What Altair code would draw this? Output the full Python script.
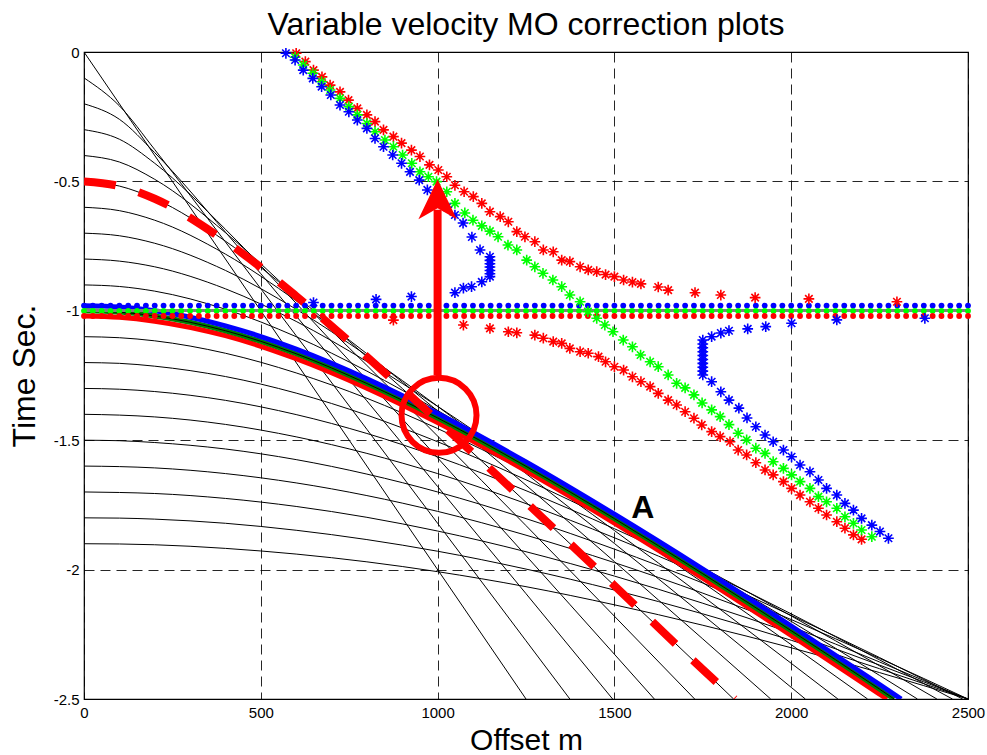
import altair as alt
import pandas as pd

TITLE = "Variable velocity MO correction plots"
X_TITLE = "Offset m"
Y_TITLE = "Time Sec."
x_ticks = [0, 500, 1000, 1500, 2000, 2500]
y_ticks = [0, -0.5, -1, -1.5, -2, -2.5]

# offsets (m) at which the black moveout curves were read
offs = [0, 100, 200, 400, 600, 800, 1000, 1250, 1500, 1750, 2000, 2250, 2500]
# offset where each curve leaves the plot at 2.5 s
black_end = [1250, 1374, 1495, 1613, 1727, 1837, 1942, 2040, 2132, 2216,
             2291, 2357, 2412, 2456, 2485, 2500, 2497, 2500, 2500, 2500]
mo_00 = [0.0, 2.5]
mo_01 = [0.1, 0.208, 0.377, 0.734, 1.096, 1.458, 1.821, 2.275, 2.5]
mo_02 = [0.2, 0.260, 0.389, 0.696, 1.020, 1.348, 1.679, 2.093, 2.5]
mo_03 = [0.3, 0.337, 0.430, 0.685, 0.971, 1.267, 1.568, 1.946, 2.327, 2.5]
mo_04 = [0.4, 0.425, 0.492, 0.698, 0.946, 1.211, 1.484, 1.830, 2.180, 2.5]
mo_05 = [0.5, 0.518, 0.567, 0.731, 0.943, 1.178, 1.424, 1.740, 2.062, 2.386, 2.5]
mo_06 = [0.6, 0.613, 0.650, 0.781, 0.961, 1.166, 1.387, 1.674, 1.969, 2.268, 2.5]
mo_07 = [0.7, 0.710, 0.739, 0.844, 0.994, 1.173, 1.369, 1.629, 1.899, 2.175, 2.455, 2.5]
mo_08 = [0.8, 0.808, 0.830, 0.915, 1.041, 1.196, 1.369, 1.603, 1.849, 2.103, 2.362, 2.5]
mo_09 = [0.9, 0.906, 0.924, 0.994, 1.100, 1.233, 1.385, 1.594, 1.817, 2.050, 2.290, 2.5]
mo_10 = [1.0, 1.005, 1.020, 1.077, 1.166, 1.281, 1.414, 1.601, 1.803, 2.016, 2.236, 2.462, 2.5]
mo_11 = [1.1, 1.104, 1.116, 1.164, 1.240, 1.338, 1.455, 1.621, 1.803, 1.997, 2.200, 2.409, 2.5]
mo_12 = [1.2, 1.203, 1.214, 1.254, 1.318, 1.403, 1.506, 1.653, 1.816, 1.993, 2.179, 2.372, 2.5]
mo_13 = [1.3, 1.303, 1.312, 1.346, 1.401, 1.474, 1.564, 1.695, 1.842, 2.001, 2.171, 2.349, 2.5]
mo_14 = [1.4, 1.403, 1.410, 1.439, 1.487, 1.551, 1.629, 1.745, 1.877, 2.022, 2.177, 2.340, 2.5]
mo_15 = [1.5, 1.502, 1.509, 1.534, 1.575, 1.631, 1.700, 1.803, 1.921, 2.052, 2.193, 2.343, 2.5]
mo_16 = [1.6, 1.602, 1.607, 1.629, 1.665, 1.714, 1.775, 1.867, 1.973, 2.091, 2.220, 2.357, 2.5]
mo_17 = [1.7, 1.702, 1.706, 1.725, 1.756, 1.798, 1.851, 1.931, 2.025, 2.130, 2.245, 2.369, 2.5]
mo_18 = [1.8, 1.801, 1.805, 1.821, 1.848, 1.884, 1.929, 1.998, 2.079, 2.171, 2.273, 2.383, 2.5]
mo_19 = [1.9, 1.901, 1.904, 1.918, 1.940, 1.970, 2.008, 2.066, 2.136, 2.215, 2.302, 2.398, 2.5]
black_curves = [mo_00, mo_01, mo_02, mo_03, mo_04, mo_05, mo_06, mo_07, mo_08, mo_09,
                mo_10, mo_11, mo_12, mo_13, mo_14, mo_15, mo_16, mo_17, mo_18, mo_19]

# thick reference curves near 1 s
thick_red_x = [0, 100, 200, 400, 600, 800, 1000, 1250, 1500, 1750, 2000, 2250, 2271]
thick_red_t = [1.02, 1.025, 1.040, 1.096, 1.185, 1.299, 1.432, 1.618, 1.820, 2.033, 2.254, 2.481, 2.5]
thick_green_x = [0, 100, 200, 400, 600, 800, 1000, 1250, 1500, 1750, 2000, 2250, 2291]
thick_green_t = [1.0, 1.005, 1.020, 1.077, 1.166, 1.281, 1.414, 1.601, 1.803, 2.016, 2.236, 2.462, 2.5]
thick_blue_x = [0, 100, 200, 400, 600, 800, 1000, 1250, 1500, 1750, 2000, 2250, 2311]
thick_blue_t = [0.98, 0.985, 1.000, 1.058, 1.148, 1.263, 1.397, 1.584, 1.786, 1.998, 2.218, 2.444, 2.5]
# red dashed curve from 0.5 s
dash_x = [0, 100, 200, 400, 600, 800, 1000, 1250, 1500, 1750, 1840]
dash_t = [0.5, 0.518, 0.567, 0.731, 0.943, 1.178, 1.424, 1.740, 2.062, 2.386, 2.5]

# flat corrected events (dots)
dot_offsets = [0, 25, 50, 75, 100, 125, 150, 175, 200, 225, 250, 275, 300, 325, 350, 375,
               400, 425, 450, 475, 500, 525, 550, 575, 600, 625, 650, 675, 700, 725, 750,
               775, 800, 825, 850, 875, 900, 925, 950, 975, 1000, 1025, 1050, 1075, 1100,
               1125, 1150, 1175, 1200, 1225, 1250, 1275, 1300, 1325, 1350, 1375, 1400,
               1425, 1450, 1475, 1500, 1525, 1550, 1575, 1600, 1625, 1650, 1675, 1700,
               1725, 1750, 1775, 1800, 1825, 1850, 1875, 1900, 1925, 1950, 1975, 2000,
               2025, 2050, 2075, 2100, 2125, 2150, 2175, 2200, 2225, 2250, 2275, 2300,
               2325, 2350, 2375, 2400, 2425, 2450, 2475, 2500]
dot_blue_t = 0.98
dot_green_t = 1.0
dot_red_t = 1.02

# star series
red_star_x = [600, 626, 649, 673, 696, 724, 748, 773, 800, 823, 847, 875, 898, 926, 950, 977,
              1002, 1026, 1049, 1075, 1101, 1125, 1148, 1177, 1200, 1224, 1247, 1275, 1299,
              1327, 1351, 1374, 1403, 1426, 1450, 1475, 1500, 1526, 1551, 1575, 1624, 1652,
              1728, 1801, 1898, 2050, 2299,
              875, 1073, 1148, 1200, 1224, 1275, 1299, 1327, 1351, 1374, 1403, 1426, 1455,
              1475, 1500, 1526, 1551, 1575, 1601, 1624, 1652, 1676, 1700, 1725, 1747, 1775,
              1799, 1827, 1850, 1874, 1900, 1926, 1949, 1978, 2001, 2025, 2053, 2077, 2100,
              2129, 2152, 2176, 2199]
red_star_t = [0.005, 0.037, 0.070, 0.096, 0.128, 0.154, 0.186, 0.218, 0.243, 0.269, 0.301,
              0.327, 0.352, 0.379, 0.404, 0.436, 0.456, 0.482, 0.515, 0.540, 0.559, 0.585,
              0.617, 0.636, 0.656, 0.694, 0.714, 0.733, 0.765, 0.772, 0.804, 0.810, 0.830,
              0.842, 0.849, 0.860, 0.868, 0.881, 0.889, 0.896, 0.908, 0.920, 0.930, 0.939,
              0.949, 0.954, 0.965,
              1.036, 1.055, 1.068, 1.081, 1.085, 1.094, 1.106, 1.119, 1.126, 1.145, 1.158,
              1.164, 1.177, 1.197, 1.216, 1.229, 1.255, 1.274, 1.293, 1.319, 1.345, 1.364,
              1.390, 1.415, 1.441, 1.467, 1.486, 1.506, 1.538, 1.557, 1.587, 1.615, 1.634,
              1.660, 1.686, 1.712, 1.738, 1.763, 1.789, 1.815, 1.840, 1.866, 1.883]
green_star_x = [597, 620, 647, 672, 696, 724, 749, 773, 800, 823, 851, 875, 901, 927, 950, 974,
                997, 1026, 1049, 1077, 1100, 1125, 1148, 1171, 1199, 1224, 1252, 1275, 1298,
                1326, 1351, 1374, 1403, 1425, 1450, 1473, 1496, 1525, 1551, 1574, 1601, 1624,
                1652, 1676, 1700, 1725, 1748, 1775, 1799, 1824, 1850, 1874, 1900, 1926, 1949,
                1978, 2001, 2025, 2053, 2077, 2100, 2129, 2152, 2176, 2199, 2228]
green_star_t = [0.020, 0.050, 0.082, 0.115, 0.147, 0.179, 0.211, 0.243, 0.276, 0.308, 0.340,
                0.366, 0.398, 0.430, 0.463, 0.482, 0.501, 0.540, 0.585, 0.622, 0.650, 0.672,
                0.692, 0.714, 0.746, 0.765, 0.804, 0.830, 0.855, 0.881, 0.907, 0.939, 0.965,
                1.003, 1.029, 1.055, 1.081, 1.113, 1.139, 1.171, 1.197, 1.216, 1.248, 1.280,
                1.298, 1.325, 1.356, 1.383, 1.409, 1.440, 1.473, 1.499, 1.531, 1.551, 1.583,
                1.609, 1.634, 1.660, 1.686, 1.718, 1.738, 1.763, 1.796, 1.821, 1.847, 1.873]
blue_star_x = [571, 597, 620, 647, 672, 698, 724, 749, 773, 800, 823, 847, 873, 898, 922, 948,
               971, 997, 1026, 1049, 1072, 1097, 1120, 1148, 1148, 1148, 1148, 1148, 1148, 1148,
               1125, 1096, 1073, 1049, 926, 826, 649,
               2378, 2129, 2001, 1928, 1877, 1824, 1801, 1775, 1750, 1750, 1750, 1750, 1750,
               1750, 1750, 1750, 1750, 1750, 1775, 1801, 1824, 1852, 1875, 1900, 1926, 1949,
               1978, 2001, 2025, 2053, 2077, 2100, 2129, 2152, 2176, 2199, 2228, 2251, 2275]
blue_star_t = [0.005, 0.031, 0.070, 0.102, 0.134, 0.166, 0.205, 0.231, 0.263, 0.295, 0.334,
               0.366, 0.398, 0.430, 0.463, 0.495, 0.533, 0.565, 0.600, 0.630, 0.661, 0.715,
               0.765, 0.791, 0.805, 0.818, 0.831, 0.844, 0.857, 0.868, 0.888, 0.907, 0.912,
               0.930, 0.945, 0.956, 0.968,
               1.029, 1.035, 1.048, 1.061, 1.070, 1.077, 1.086, 1.100, 1.113, 1.128, 1.143,
               1.158, 1.173, 1.188, 1.203, 1.218, 1.233, 1.248, 1.274, 1.313, 1.345, 1.376,
               1.414, 1.448, 1.480, 1.506, 1.538, 1.564, 1.596, 1.622, 1.654, 1.686, 1.712,
               1.744, 1.770, 1.802, 1.828, 1.853, 1.879]

# annotations
circle_x, circle_t = 1004, 1.404
arrow_x, arrow_t_from, arrow_t_to = 1000, 1.248, 0.61
arrow_head_t = 0.569
label_a_x, label_a_t, label_a = 1580, 1.802, "A"

# ---------------------------------------------------------------- tables
rows = []
for i, (tl, end) in enumerate(zip(black_curves, black_end)):
    xs = offs[:len(tl) - 1] + [end]
    for k, (xv, tv) in enumerate(zip(xs, tl)):
        rows.append({"curve": i, "ord": k, "x": xv, "y": -tv})
df_black = pd.DataFrame(rows)


def line_df(xs, ts):
    return pd.DataFrame({"x": xs, "y": [-t for t in ts], "ord": list(range(len(xs)))})


df_red = line_df(thick_red_x, thick_red_t)
df_green = line_df(thick_green_x, thick_green_t)
df_blue = line_df(thick_blue_x, thick_blue_t)
df_dash = line_df(dash_x, dash_t)
df_dots = pd.DataFrame({"x": dot_offsets})

star_rows = []
for name, xs, ts in [("red", red_star_x, red_star_t), ("green", green_star_x, green_star_t),
                     ("blue", blue_star_x, blue_star_t)]:
    for xv, tv in zip(xs, ts):
        star_rows.append({"x": xv, "y": -tv, "c": name})
df_stars = pd.DataFrame(star_rows)

df_circle = pd.DataFrame({"x": [circle_x], "y": [-circle_t]})
df_arrow = pd.DataFrame({"x": [arrow_x], "y": [-arrow_t_from], "y2": [-arrow_t_to]})
df_head = pd.DataFrame({"x": [arrow_x], "y": [-arrow_head_t]})
df_label = pd.DataFrame({"x": [label_a_x], "y": [-label_a_t], "txt": [label_a]})

FONT = "Liberation Sans"
x_scale = alt.Scale(domain=[0, 2500], nice=False, zero=False)
y_scale = alt.Scale(domain=[-2.5, 0], nice=False, zero=False)
x_axis = alt.Axis(values=x_ticks, format="d", grid=True, gridDash=[10, 6], gridColor="black",
                  gridWidth=1, gridOpacity=0.85, ticks=False, domain=False, labelFont=FONT,
                  labelFontSize=15, labelColor="black", labelPadding=6, labelFlush=False,
                  title=X_TITLE, titleFont=FONT, titleFontSize=30, titleFontWeight="normal",
                  titleColor="black", titlePadding=5)
y_axis = alt.Axis(values=y_ticks, labelExpr="'' + datum.value", grid=True, gridDash=[10, 6],
                  gridColor="black", gridWidth=1, gridOpacity=0.85, ticks=False, domain=False,
                  labelFont=FONT, labelFontSize=15, labelColor="black", labelPadding=5,
                  labelFlush=False, title=Y_TITLE, titleFont=FONT, titleFontSize=32,
                  titleFontWeight="normal", titleColor="black", titlePadding=12)

X = alt.X("x:Q", scale=x_scale, axis=x_axis)
Y = alt.Y("y:Q", scale=y_scale, axis=y_axis)
Xn = alt.X("x:Q", scale=x_scale)
Yn = alt.Y("y:Q", scale=y_scale)

base = alt.Chart(df_black).mark_line(color="black", strokeWidth=1, interpolate="monotone",
                                     clip=True).encode(x=X, y=Y, detail="curve:N", order="ord:Q")

thick_red = alt.Chart(df_red).mark_line(color="#ff0000", strokeWidth=5, interpolate="monotone",
                                        clip=True).encode(x=Xn, y=Yn, order="ord:Q")
thick_green = alt.Chart(df_green).mark_line(color="#008000", strokeWidth=5,
                                            interpolate="monotone", clip=True).encode(
    x=Xn, y=Yn, order="ord:Q")
thick_blue = alt.Chart(df_blue).mark_line(color="#0000ff", strokeWidth=5,
                                          interpolate="monotone", clip=True).encode(
    x=Xn, y=Yn, order="ord:Q")
black_ref = alt.Chart(df_green).mark_line(color="black", strokeWidth=1, interpolate="monotone",
                                          clip=True).encode(x=Xn, y=Yn, order="ord:Q")
dashed = alt.Chart(df_dash).mark_line(color="#ff0000", strokeWidth=8, strokeDash=[32, 24],
                                      strokeCap="butt", interpolate="monotone",
                                      clip=True).encode(x=Xn, y=Yn, order="ord:Q")

grey_rule = alt.Chart(df_dots).mark_rule(color="#808080", strokeWidth=2).encode(
    y=alt.datum(-dot_green_t))


def dots(color, t):
    return alt.Chart(df_dots).mark_point(shape="circle", filled=True, size=34, color=color,
                                         opacity=1).encode(x=Xn, y=alt.datum(-t))


STAR = "M-1,0L1,0M0,-1L0,1M-0.7,-0.7L0.7,0.7M-0.7,0.7L0.7,-0.7"
stars = alt.Chart(df_stars).mark_point(shape=STAR, filled=False, size=115, strokeWidth=1.6,
                                       opacity=1).encode(
    x=Xn, y=Yn,
    color=alt.Color("c:N", scale=alt.Scale(domain=["red", "green", "blue"],
                                           range=["#ff0000", "#00ff00", "#0000ff"]),
                    legend=None))

circle = alt.Chart(df_circle).mark_point(shape="circle", filled=False, size=5625, strokeWidth=6,
                                         color="#ff0000", opacity=1).encode(x=Xn, y=Yn)
shaft = alt.Chart(df_arrow).mark_rule(color="#ff0000", strokeWidth=8).encode(
    x=Xn, y=Yn, y2="y2:Q")
HEAD = "M0,-1L-0.96,1L0,0.45L0.96,1Z"
head = alt.Chart(df_head).mark_point(shape=HEAD, filled=True, size=1600, color="#ff0000",
                                     opacity=1).encode(x=Xn, y=Yn)
label = alt.Chart(df_label).mark_text(font=FONT, fontSize=32, fontWeight="bold", color="black",
                                      align="center", baseline="alphabetic").encode(
    x=Xn, y=Yn, text="txt:N")

chart = alt.layer(
    base, thick_red, thick_green, thick_blue, black_ref, dashed, grey_rule,
    dots("#0000ff", dot_blue_t), dots("#00ff00", dot_green_t), dots("#ff0000", dot_red_t),
    stars, circle, shaft, head, label
).properties(
    width=884, height=647,
    title=alt.TitleParams(TITLE, font=FONT, fontSize=32, fontWeight="normal", color="black",
                          offset=3, anchor="middle"),
    padding={"left": 84, "top": 52, "right": 19, "bottom": 56},
    autosize=alt.AutoSizeParams(type="none"),
    background="white",
).configure_view(stroke="black", strokeWidth=1.2)

chart.save("out.html", embed_options={"renderer": "svg", "actions": False})
